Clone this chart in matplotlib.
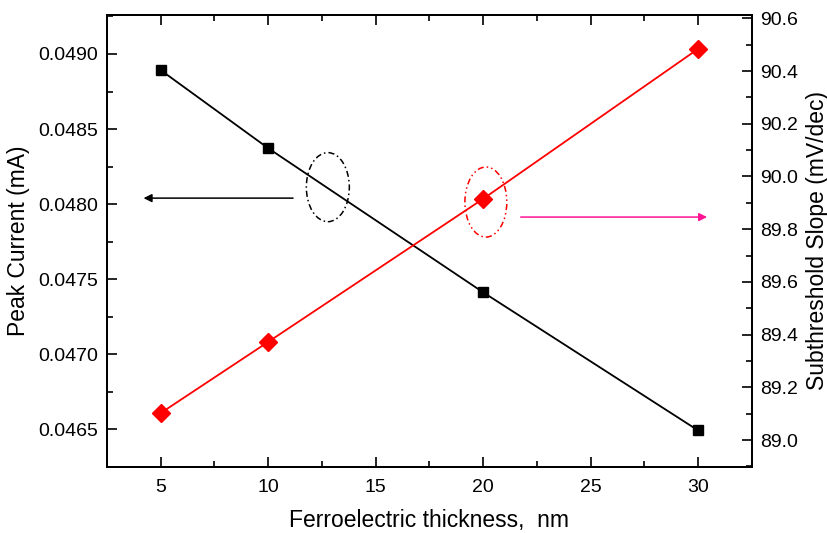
import matplotlib.pyplot as plt
from matplotlib.patches import Ellipse
from matplotlib.ticker import MultipleLocator

plt.rcParams['font.family'] = ['Liberation Sans', 'DejaVu Sans']

# thickness (nm)
thickness = [5, 10, 20, 30]
# peak current (mA), left axis
peak_current = [0.048893, 0.048373, 0.047413, 0.046493]
# subthreshold slope (mV/dec), right axis
ss = [89.102, 89.372, 89.915, 90.484]

fig = plt.figure(figsize=(8.28, 5.33), dpi=100)
ax = fig.add_axes([0.129, 0.124, 0.779, 0.848])
ax2 = ax.twinx()

ax.plot(thickness, peak_current, color='black', lw=1.3, marker='s', ms=6.5, zorder=3)
ax2.plot(thickness, ss, color='red', lw=1.3, marker='D', ms=9, zorder=3)

ax.set_xlim(2.5, 32.5)
ax.set_ylim(0.04625, 0.04926)
ax2.set_ylim(88.898, 90.613)

ax.xaxis.set_major_locator(MultipleLocator(5))
ax.xaxis.set_minor_locator(MultipleLocator(2.5))
ax.yaxis.set_major_locator(MultipleLocator(0.0005))
ax.yaxis.set_minor_locator(MultipleLocator(0.00025))
ax.yaxis.set_major_formatter(plt.FormatStrFormatter('%.4f'))
ax2.yaxis.set_major_locator(MultipleLocator(0.2))
ax2.yaxis.set_minor_locator(MultipleLocator(0.1))
ax2.yaxis.set_major_formatter(plt.FormatStrFormatter('%.1f'))

ax.tick_params(which='both', direction='in', top=True, right=False, labelsize=14, width=1.2)
ax.tick_params(which='major', length=7)
ax.tick_params(which='minor', length=4)
ax.tick_params(axis='x', pad=9)
ax.tick_params(axis='y', pad=6)
ax2.tick_params(which='both', direction='in', labelsize=14, width=1.2, pad=6)
ax2.tick_params(which='major', length=7)
ax2.tick_params(which='minor', length=4)
for a in (ax, ax2):
    for s in a.spines.values():
        s.set_linewidth(1.4)

ax.set_xlabel('Ferroelectric thickness,  nm', fontsize=16.5, labelpad=9)
ax.set_ylabel('Peak Current (mA)', fontsize=16.5, labelpad=6)
ax2.set_ylabel('Subthreshold Slope (mV/dec)', fontsize=16.5, labelpad=6)

# ellipse + arrow marking which axis each curve belongs to
ax.add_patch(Ellipse((12.78, 0.048113), 2.0, 0.00046, fill=False, ec='black',
                     lw=1.1, ls=(0, (4, 2, 1, 2))))
ax.annotate('', xy=(4.08, 0.04804), xytext=(11.29, 0.04804),
            arrowprops=dict(arrowstyle='-|>', color='black', lw=1.1, mutation_scale=12))
ax2.add_patch(Ellipse((20.13, 89.903), 1.95, 0.266, fill=False, ec='red',
                      lw=1.1, ls=(0, (4, 2, 1, 2, 1, 2))))
ax2.annotate('', xy=(30.55, 89.846), xytext=(21.62, 89.846),
             arrowprops=dict(arrowstyle='-|>', color='#ff1493', lw=1.1, mutation_scale=12))

fig.savefig('out.png', dpi=100)
